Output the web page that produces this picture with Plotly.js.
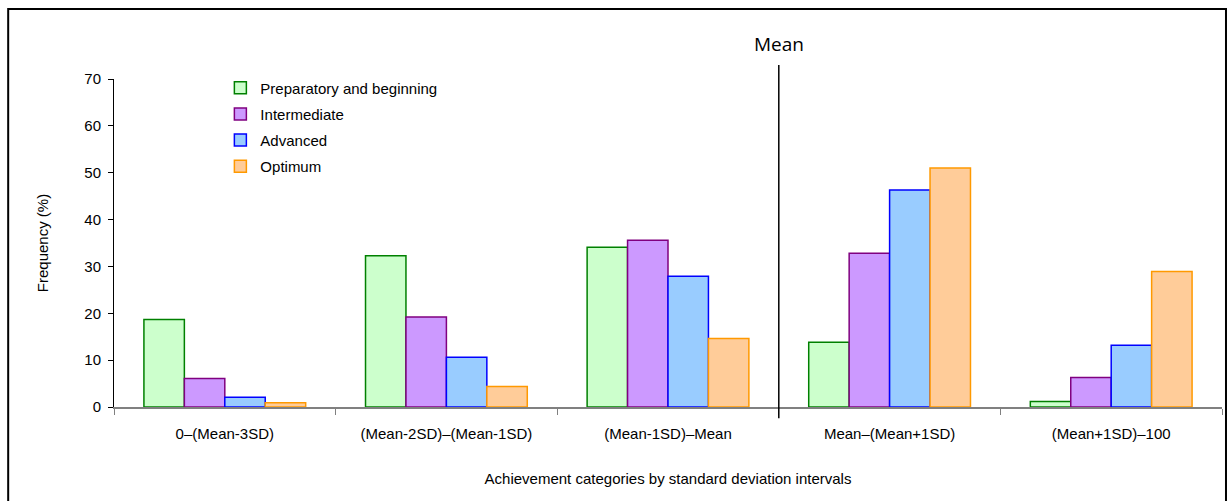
<!DOCTYPE html>
<html><head><meta charset="utf-8">
<script src="https://cdn.plot.ly/plotly-3.0.1.min.js"></script>
<style>html,body{margin:0;padding:0;background:#fff;}</style>
</head><body>
<div id="chart" style="width:1231px;height:501px;"></div>
<script>
var categories = ["0\u2013(Mean-3SD)", "(Mean-2SD)\u2013(Mean-1SD)", "(Mean-1SD)\u2013Mean", "Mean\u2013(Mean+1SD)", "(Mean+1SD)\u2013100"];
var seriesNames = ["Preparatory and beginning", "Intermediate", "Advanced", "Optimum"];
var preparatory = [18.7, 32.3, 34.1, 13.8, 1.2];
var intermediate = [6.1, 19.2, 35.6, 32.8, 6.3];
var advanced = [2.1, 10.6, 27.9, 46.3, 13.2];
var optimum = [0.9, 4.4, 14.6, 51.0, 28.9];
var fills = ["#CCFFCC", "#CC99FF", "#99CCFF", "#FFCC99"];
var borders = ["#008000", "#800080", "#0000FF", "#FF9900"];
var allValues = [preparatory, intermediate, advanced, optimum];

var traces = allValues.map(function(v, i){
  return {
    type: "bar", x: categories, y: v, name: seriesNames[i],
    legendgroup: "g" + i,
    marker: {color: fills[i], line: {color: borders[i], width: 1.5}},
    hoverinfo: "x+y+name"
  };
});

var layout = {
  width: 1231, height: 501,
  margin: {l: 114, r: 9, t: 79, b: 94},
  paper_bgcolor: "#fff", plot_bgcolor: "rgba(0,0,0,0)",
  barmode: "group", bargap: 0.27, bargroupgap: 0,
  font: {family: "Liberation Sans, Arial, sans-serif", size: 15, color: "#000"},
  showlegend: true,
  legend: {x: 0.096, y: 1.023, xanchor: "left", yanchor: "top", bgcolor: "rgba(0,0,0,0)",
           font: {size: 15, family: "Liberation Sans, Arial, sans-serif"}, tracegroupgap: 3.7, itemwidth: 30},
  xaxis: {
    type: "category", showgrid: false, zeroline: false,
    showline: true, linecolor: "#808080", linewidth: 2,
    ticks: "outside", tickson: "boundaries", ticklen: 6, tickcolor: "#808080", tickwidth: 1,
    tickfont: {family: "Liberation Sans Narrow, Liberation Sans, Arial, sans-serif", size: 15},
    ticklabelstandoff: 12,
    title: {text: "Achievement categories by standard deviation intervals",
            font: {family: "Liberation Sans Narrow, Liberation Sans, Arial, sans-serif", size: 15}, standoff: 32},
    automargin: false, fixedrange: true
  },
  yaxis: {
    range: [0, 70], dtick: 10, showgrid: false, zeroline: false,
    showline: true, linecolor: "#000", linewidth: 1,
    ticks: "outside", ticklen: 5, tickcolor: "#000",
    tickfont: {size: 15}, ticklabelstandoff: 4,
    title: {text: "Frequency (%)", font: {size: 15}, standoff: 32},
    automargin: false, fixedrange: true
  },
  shapes: [
    {type: "rect", xref: "paper", yref: "paper", x0: -0.0955, x1: 1.0036, y0: -0.32, y1: 1.2134,
     line: {color: "#000", width: 2}, fillcolor: "rgba(0,0,0,0)", layer: "above"},
    {type: "line", xref: "x", yref: "paper", x0: 2.5, x1: 2.5, y0: -0.034, y1: 1.043,
     line: {color: "#000", width: 1.5}, layer: "above"}
  ],
  annotations: [
    {text: "Mean", xref: "x", yref: "paper", x: 2.5, y: 1.06, yanchor: "bottom", showarrow: false,
     font: {family: "Open Sans, Liberation Sans, sans-serif", size: 19, color: "#000"}}
  ]
};
Plotly.newPlot("chart", traces, layout, {displayModeBar: false, staticPlot: true});
</script>
</body></html>
